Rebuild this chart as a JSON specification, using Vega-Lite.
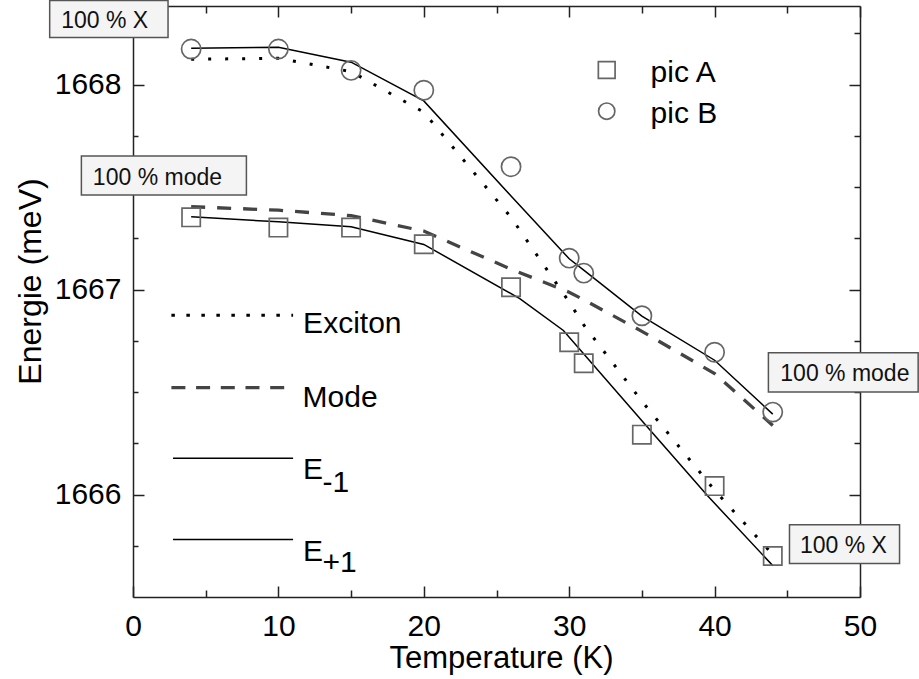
{
  "$schema": "https://vega.github.io/schema/vega-lite/v6.json",
  "width": 727,
  "height": 591,
  "autosize": {"type": "none"},
  "padding": {"left": 133, "top": 6, "right": 59, "bottom": 82},
  "background": "white",
  "config": {
    "view": {"stroke": null},
    "axis": {
      "grid": false,
      "domainColor": "#222",
      "domainWidth": 1.5,
      "tickColor": "#222",
      "tickWidth": 1.5,
      "labelFont": "Liberation Sans",
      "labelFontSize": 30,
      "labelColor": "#000",
      "titleFont": "Liberation Sans",
      "titleFontSize": 30,
      "titleFontWeight": "normal",
      "titleColor": "#000"
    }
  },
  "datasets": {
    "pointsA": [
      {"T": 4, "E": 1667.352}, {"T": 10, "E": 1667.302}, {"T": 15, "E": 1667.302},
      {"T": 20, "E": 1667.221}, {"T": 26, "E": 1667.011}, {"T": 30, "E": 1666.743},
      {"T": 31, "E": 1666.640}, {"T": 35, "E": 1666.292}, {"T": 40, "E": 1666.041},
      {"T": 44, "E": 1665.700}
    ],
    "pointsB": [
      {"T": 4, "E": 1668.173}, {"T": 10, "E": 1668.173}, {"T": 15, "E": 1668.069},
      {"T": 20, "E": 1667.972}, {"T": 26, "E": 1667.599}, {"T": 30, "E": 1667.153},
      {"T": 31, "E": 1667.080}, {"T": 35, "E": 1666.872}, {"T": 40, "E": 1666.694},
      {"T": 44, "E": 1666.402}
    ],
    "dotted": [
      {"T": 4, "E": 1668.123}, {"T": 10, "E": 1668.128}, {"T": 15, "E": 1668.063},
      {"T": 20, "E": 1667.865}, {"T": 26, "E": 1667.352}, {"T": 30, "E": 1666.939},
      {"T": 31, "E": 1666.827}, {"T": 35, "E": 1666.455}, {"T": 40, "E": 1666.021},
      {"T": 44, "E": 1665.707}
    ],
    "dashed": [
      {"T": 4, "E": 1667.404}, {"T": 10, "E": 1667.387}, {"T": 15, "E": 1667.360},
      {"T": 20, "E": 1667.285}, {"T": 26, "E": 1667.099}, {"T": 30, "E": 1666.987},
      {"T": 31, "E": 1666.950}, {"T": 35, "E": 1666.796}, {"T": 40, "E": 1666.590},
      {"T": 44, "E": 1666.337}
    ],
    "solid": [
      {"g": "upper", "T": 4, "E": 1668.177}, {"g": "upper", "T": 10, "E": 1668.182},
      {"g": "upper", "T": 15, "E": 1668.109}, {"g": "upper", "T": 20, "E": 1667.920},
      {"g": "upper", "T": 26, "E": 1667.456}, {"g": "upper", "T": 30, "E": 1667.150},
      {"g": "upper", "T": 31, "E": 1667.095}, {"g": "upper", "T": 35, "E": 1666.870},
      {"g": "upper", "T": 40, "E": 1666.655}, {"g": "upper", "T": 44, "E": 1666.392},
      {"g": "lower", "T": 4, "E": 1667.355}, {"g": "lower", "T": 10, "E": 1667.330},
      {"g": "lower", "T": 15, "E": 1667.306}, {"g": "lower", "T": 20, "E": 1667.220},
      {"g": "lower", "T": 26.6, "E": 1666.956}, {"g": "lower", "T": 29.6, "E": 1666.800},
      {"g": "lower", "T": 35, "E": 1666.360}, {"g": "lower", "T": 39.5, "E": 1665.995},
      {"g": "lower", "T": 44, "E": 1665.653},
      {"g": "legE-1", "T": 2.75, "E": 1666.177}, {"g": "legE-1", "T": 11.01, "E": 1666.177},
      {"g": "legE+1", "T": 2.75, "E": 1665.780}, {"g": "legE+1", "T": 11.01, "E": 1665.780}
    ],
    "legDotted": [{"T": 2.64, "E": 1666.874}, {"T": 11.01, "E": 1666.874}],
    "legDashed": [{"T": 2.64, "E": 1666.521}, {"T": 10.4, "E": 1666.521}],
    "legSymA": [{"T": 32.58, "E": 1668.071}],
    "legSymB": [{"T": 32.58, "E": 1667.870}],
    "legText": [
      {"T": 35.6, "E": 1668.014, "label": "pic A"},
      {"T": 35.6, "E": 1667.814, "label": "pic B"},
      {"T": 11.70, "E": 1666.787, "label": "Exciton"},
      {"T": 11.66, "E": 1666.426, "label": "Mode"},
      {"T": 11.70, "E": 1666.077, "label": "E"},
      {"T": 11.70, "E": 1665.678, "label": "E"},
      {"T": 13.04, "E": 1666.011, "label": "-1"},
      {"T": 13.04, "E": 1665.620, "label": "+1"}
    ],
    "boxes": [
      {"T": -5.73, "T2": 2.41, "E": 1668.41, "E2": 1668.229},
      {"T": -3.55, "T2": 7.80, "E": 1667.651, "E2": 1667.461},
      {"T": 43.70, "T2": 54.0, "E": 1666.692, "E2": 1666.500},
      {"T": 45.15, "T2": 52.72, "E": 1665.853, "E2": 1665.664}
    ],
    "boxText": [
      {"T": -1.95, "E": 1668.275, "label": "100 % X"},
      {"T": 1.68, "E": 1667.510, "label": "100 % mode"},
      {"T": 48.96, "E": 1666.553, "label": "100 % mode"},
      {"T": 48.86, "E": 1665.715, "label": "100 % X"}
    ]
  },
  "encoding": {
    "x": {"field": "T", "type": "quantitative", "scale": {"domain": [0, 50], "nice": false, "zero": false}, "axis": null},
    "y": {"field": "E", "type": "quantitative", "scale": {"domain": [1665.5, 1668.383], "nice": false, "zero": false}, "axis": null}
  },
  "resolve": {"axis": {"x": "independent", "y": "independent"}},
  "layer": [
    {
      "data": {"name": "dotted"},
      "mark": {"type": "line", "stroke": "#000", "strokeWidth": 3, "strokeDash": [3, 14]},
      "encoding": {
        "x": {
          "field": "T", "type": "quantitative",
          "scale": {"domain": [0, 50], "nice": false, "zero": false},
          "axis": {
            "orient": "bottom",
            "values": [0, 5, 10, 15, 20, 25, 30, 35, 40, 45, 50],
            "labelExpr": "datum.value % 10 === 0 ? '' + datum.value : ''",
            "tickSize": {"condition": {"test": "datum.value % 10 === 0", "value": -11}, "value": -7},
            "labelPadding": 25,
            "labelFlush": false,
            "labelOverlap": false,
            "labelAlign": "center",
            "labelBaseline": "top",
            "title": "Temperature (K)",
            "titleFontSize": 31,
            "titleBaseline": "alphabetic",
            "titleAlign": "center",
            "titleX": 368,
            "titleY": 70
          }
        },
        "y": {
          "field": "E", "type": "quantitative",
          "scale": {"domain": [1665.5, 1668.383], "nice": false, "zero": false},
          "axis": {
            "orient": "left",
            "values": [1665.75, 1666, 1666.25, 1666.5, 1666.75, 1667, 1667.25, 1667.5, 1667.75, 1668, 1668.25],
            "labelExpr": "datum.value % 1 === 0 ? '' + datum.value : ''",
            "tickSize": {"condition": {"test": "datum.value % 1 === 0", "value": -11}, "value": -5},
            "labelPadding": 23,
            "labelFlush": false,
            "labelOverlap": false,
            "title": "Energie (meV)",
            "titleFontSize": 32,
            "titleBaseline": "alphabetic",
            "titleAlign": "center",
            "titleAngle": 270,
            "titleX": -93,
            "titleY": 275
          }
        }
      }
    },
    {
      "data": {"name": "dashed"},
      "mark": {"type": "line", "stroke": "#444", "strokeWidth": 3.3, "strokeDash": [14, 12]},
      "encoding": {
        "x": {
          "field": "T", "type": "quantitative",
          "scale": {"domain": [0, 50], "nice": false, "zero": false},
          "axis": {
            "orient": "top",
            "values": [0, 5, 10, 15, 20, 25, 30, 35, 40, 45, 50],
            "labels": false,
            "tickSize": {"condition": {"test": "datum.value % 10 === 0", "value": -11}, "value": -7},
            "title": null
          }
        },
        "y": {
          "field": "E", "type": "quantitative",
          "scale": {"domain": [1665.5, 1668.383], "nice": false, "zero": false},
          "axis": {
            "orient": "right",
            "values": [1665.75, 1666, 1666.25, 1666.5, 1666.75, 1667, 1667.25, 1667.5, 1667.75, 1668, 1668.25],
            "labels": false,
            "tickSize": {"condition": {"test": "datum.value % 1 === 0", "value": -11}, "value": -6},
            "title": null
          }
        }
      }
    },
    {
      "data": {"name": "solid"},
      "mark": {"type": "line", "stroke": "#000", "strokeWidth": 1.5},
      "encoding": {"detail": {"field": "g"}}
    },
    {
      "data": {"name": "legDotted"},
      "mark": {"type": "line", "stroke": "#000", "strokeWidth": 3, "strokeDash": [3.5, 11.5]},
      "encoding": {}
    },
    {
      "data": {"name": "legDashed"},
      "mark": {"type": "line", "stroke": "#444", "strokeWidth": 3.3, "strokeDash": [14, 10.7]},
      "encoding": {}
    },
    {
      "data": {"name": "pointsA"},
      "mark": {"type": "point", "shape": "square", "size": 335, "filled": false, "stroke": "#666", "strokeWidth": 1.7, "opacity": 1}
    },
    {
      "data": {"name": "pointsB"},
      "mark": {"type": "point", "shape": "circle", "size": 370, "filled": false, "stroke": "#666", "strokeWidth": 1.7, "opacity": 1}
    },
    {
      "data": {"name": "legSymA"},
      "mark": {"type": "point", "shape": "square", "size": 280, "filled": false, "stroke": "#666", "strokeWidth": 1.7, "opacity": 1}
    },
    {
      "data": {"name": "legSymB"},
      "mark": {"type": "point", "shape": "circle", "size": 265, "filled": false, "stroke": "#666", "strokeWidth": 1.7, "opacity": 1}
    },
    {
      "data": {"name": "legText"},
      "mark": {"type": "text", "font": "Liberation Sans", "fontSize": 30, "align": "left", "baseline": "alphabetic", "color": "#000"},
      "encoding": {"text": {"field": "label"}}
    },
    {
      "data": {"name": "boxes"},
      "mark": {"type": "rect", "fill": "#f4f4f4", "stroke": "#555", "strokeWidth": 1.5},
      "encoding": {"x2": {"field": "T2"}, "y2": {"field": "E2"}}
    },
    {
      "data": {"name": "boxText"},
      "mark": {"type": "text", "font": "Liberation Sans", "fontSize": 23, "align": "center", "baseline": "alphabetic", "color": "#111"},
      "encoding": {"text": {"field": "label"}}
    }
  ]
}
